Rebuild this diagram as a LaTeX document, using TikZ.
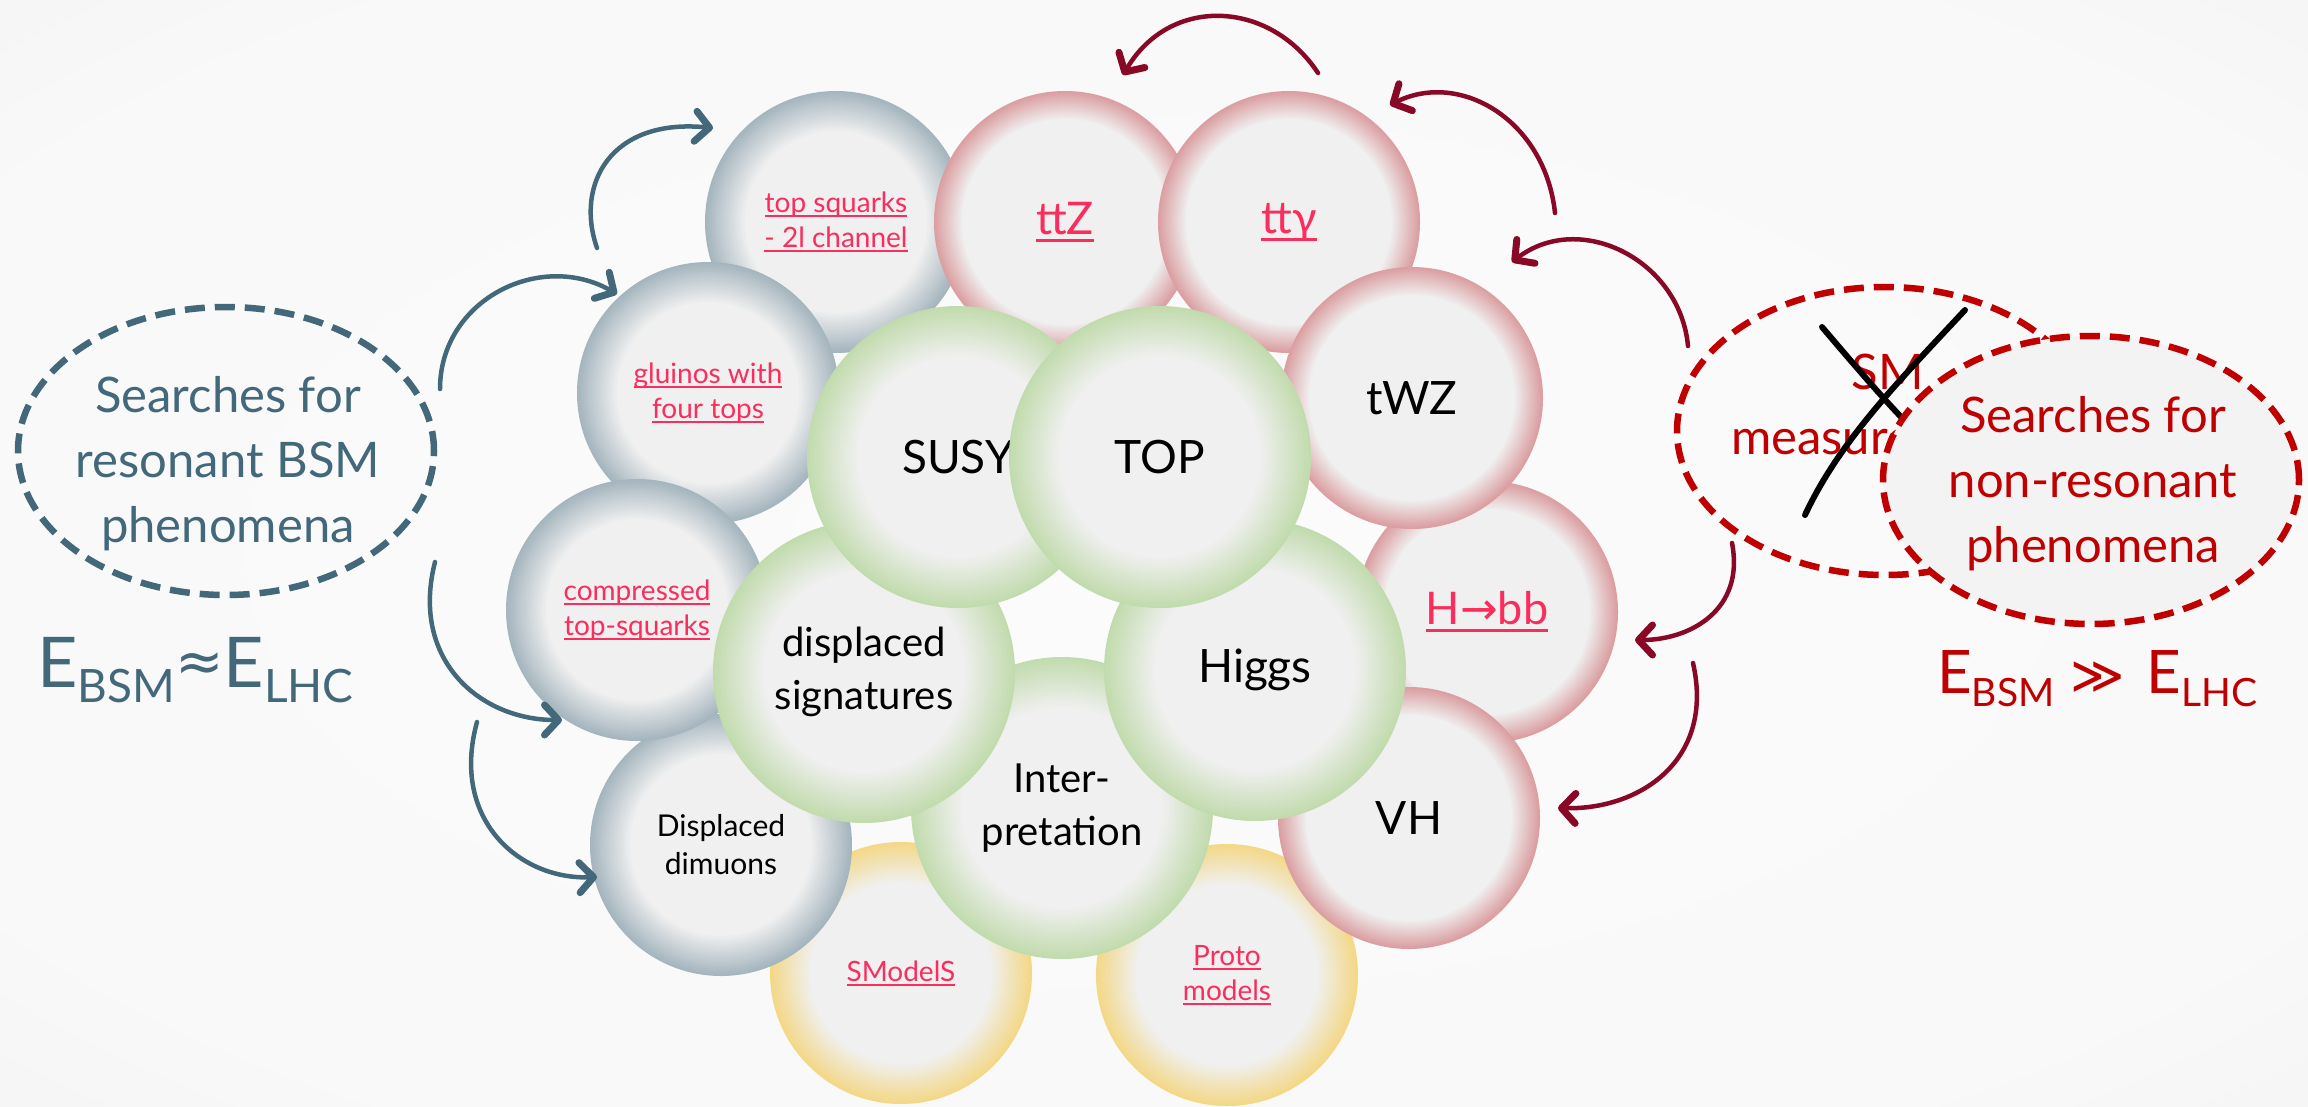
\documentclass[tikz,border=0pt]{standalone}
\usepackage{fontspec}
\setmainfont{Lato}
\newfontfamily\symfont{DejaVu Sans}
\usetikzlibrary{shapes.geometric,arrows.meta}

\definecolor{slate}{RGB}{66,104,122}
\definecolor{maroon}{RGB}{137,8,38}
\definecolor{dred}{RGB}{192,0,0}
\definecolor{linkpink}{RGB}{250,45,92}
\definecolor{bgR}{RGB}{243,243,243}
\definecolor{bgC}{RGB}{247,247,247}
\definecolor{cin}{RGB}{240,240,240}
\definecolor{edgegray}{RGB}{165,181,190}
\definecolor{edgered}{RGB}{219,158,161}
\definecolor{edgegreen}{RGB}{194,219,174}
\definecolor{edgeyellow}{RGB}{243,216,136}

\pgfdeclareradialshading{bgshade}{\pgfpoint{0bp}{0bp}}{rgb(0bp)=(0.985,0.985,0.985); rgb(30bp)=(0.975,0.975,0.975); rgb(50bp)=(0.93,0.93,0.93)}

\newcommand\lnk[1]{\vtop{\setbox0\hbox{#1}\dp0=0pt\box0\kern0.1em\hrule height0.065em}}
\newcommand\lnkfont{\fontsize{28}{35}\selectfont}
\newcommand\bigfont{\fontsize{46}{53}\selectfont}
\newcommand\grnfont{\fontsize{40}{53}\selectfont}
\newcommand\ellfont{\fontsize{49}{65}\selectfont}
\newcommand\fsz[1]{\fontsize{#1}{#1}\selectfont}

\tikzset{
  ringfill/.style n args={3}{fill=#3, path picture={
    \foreach \k in {1,...,24}{
      \pgfmathsetmacro\ringr{#1-\k*#2/24}
      \pgfmathtruncatemacro\ringp{\k*100/24}
      \fill[cin!\ringp!#3] (path picture bounding box.center) circle[radius=\ringr pt];
    }}}
}

\begin{document}
\begin{tikzpicture}[x=1pt,y=-1pt,
  bub/.style={circle, inner sep=0pt, minimum size=262, align=center},
  graybub/.style={bub, ringfill={131}{40}{edgegray}},
  redbub/.style={bub, ringfill={131}{28}{edgered}},
  greenbub/.style={bub, minimum size=302, ringfill={151}{50}{edgegreen}},
  yellowbub/.style={bub, ringfill={131}{40}{edgeyellow}},
  linktext/.style={text=linkpink, font=\lnkfont},
  dashell/.style={ellipse, minimum width=416, minimum height=288, inner sep=0pt, dash pattern=on 20pt off 10pt, line width=6.5pt},
  sltext/.style={text=slate, font=\ellfont, align=center, inner sep=0pt},
  drtext/.style={text=dred, font=\ellfont, align=center, inner sep=0pt},
  slarrow/.style={draw=slate, line width=4.5pt, line cap=round, -{Straight Barb[length=14pt,width=30pt,line width=7pt,round]}},
  mrarrow/.style={draw=maroon, line width=4.5pt, line cap=round, -{Straight Barb[length=14pt,width=30pt,line width=7pt,round]}}
]
\useasboundingbox (0,0) rectangle (2308,1106);
\fill[bgC] (0,0) rectangle (2308,1106);
\shade[shading=bgshade] (0,0) rectangle (2308,1106);

% left side
\node[dashell, draw=slate] (lres) at (226,451) {};
\node[sltext] (lrestxt) at (228,464) {Searches for\\resonant BSM\\phenomena};
\node[text=slate, anchor=base west, inner sep=0pt] (eleft) at (37,687)
  {\fsz{70}E\fsz{46}\raisebox{-15pt}{BSM}\fsz{58}\raisebox{6pt}{\symfont ≈}\fsz{70}E\fsz{46}\raisebox{-15pt}{LHC}};

% right side
\node[dashell, draw=dred] (smm) at (1885,431) {};
\node[drtext] (smmtxt) at (1888,404) {SM\\measurements};
\draw[line width=6pt, line cap=round] (1822,327) .. controls (1850,360) and (1880,395) .. (1902,418);
\draw[line width=6pt, line cap=round] (1965,310) .. controls (1900,380) and (1840,440) .. (1805,515);
\node[dashell, draw=dred, fill=bgR] (nonres) at (2091,480) {};
\node[drtext] (nonrestxt) at (2093,484) {Searches for\\non-resonant\\phenomena};
\node[text=dred, anchor=base west, inner sep=0pt] (eright) at (1937,693)
  {\fsz{60}E\fsz{39}\raisebox{-13pt}{BSM}\hspace{16pt}\fsz{52}{\symfont ≫}\hspace{22pt}\fsz{60}E\fsz{39}\raisebox{-13pt}{LHC}};

% yellow
\node[yellowbub, linktext] (smod) at (901,973) {\lnk{SModelS}};
\node[yellowbub, linktext] (proto) at (1227,975) {\lnk{Proto}\\\lnk{models}};

% gray
\node[graybub, linktext] (ts) at (836,222) {\lnk{top squarks}\\\lnk{- 2l channel}};
\node[graybub, linktext] (gl) at (708,393) {\lnk{gluinos with}\\\lnk{four tops}};
\node[graybub, font=\fontsize{30}{38}\selectfont] (dm) at (721,845) {Displaced\\dimuons};
\node[graybub, linktext] (cp) at (637,610) {\lnk{compressed}\\\lnk{top-squarks}};

% red
\node[redbub, text=linkpink, font=\fontsize{45}{50}\selectfont] (ttz) at (1065,222) {\lnk{ttZ}};
\node[redbub, text=linkpink, font=\fontsize{45}{50}\selectfont] (tta) at (1289,222) {\lnk{ttγ}};
\node[redbub, text=linkpink, font=\fontsize{45}{50}\selectfont] (hbb) at (1487,612) {\lnk{H{\symfont →}bb}};
\node[redbub, font=\bigfont] (vh) at (1409,818) {VH};
\node[redbub, font=\bigfont] (twz) at (1412,398) {tWZ};

% green
\node[greenbub, font=\grnfont] (interp) at (1062,808) {Inter-\\pretation};
\node[greenbub, font=\grnfont] (disp) at (864,672) {displaced\\signatures};
\node[greenbub, font=\bigfont] (higgs) at (1255,670) {Higgs};
\node[greenbub, font=\bigfont] (susy) at (958,457) {SUSY};
\node[greenbub, font=\bigfont] (top) at (1160,457) {TOP};

% left arrows
\coordinate (a1s) at (597,248); \coordinate (a1e) at (713,128);
\coordinate (a2s) at (440,389); \coordinate (a2e) at (617,294);
\coordinate (a3s) at (435,562); \coordinate (a3e) at (562,720);
\coordinate (a4s) at (477,722); \coordinate (a4e) at (597,877);
\draw[slarrow] (a1s) .. controls (575,185) and (610,118) .. (a1e);
\draw[slarrow] (a2s) .. controls (440,300) and (540,250) .. (a2e);
\draw[slarrow] (a3s) .. controls (410,660) and (480,720) .. (a3e);
\draw[slarrow] (a4s) .. controls (450,820) and (520,880) .. (a4e);

% right arrows
\coordinate (r1s) at (1318,73);  \coordinate (r1e) at (1123,75);
\coordinate (r2s) at (1555,213); \coordinate (r2e) at (1390,105);
\coordinate (r3s) at (1688,346); \coordinate (r3e) at (1512,262);
\coordinate (r4s) at (1732,543); \coordinate (r4e) at (1635,640);
\coordinate (r5s) at (1693,663); \coordinate (r5e) at (1558,808);
\draw[mrarrow] (r1s) .. controls (1270,0) and (1170,-5) .. (r1e);
\draw[mrarrow] (r2s) .. controls (1545,120) and (1460,70) .. (r2e);
\draw[mrarrow] (r3s) .. controls (1680,260) and (1580,210) .. (r3e);
\draw[mrarrow] (r4s) .. controls (1745,610) and (1690,640) .. (r4e);
\draw[mrarrow] (r5s) .. controls (1715,760) and (1640,810) .. (r5e);
\end{tikzpicture}
\end{document}
